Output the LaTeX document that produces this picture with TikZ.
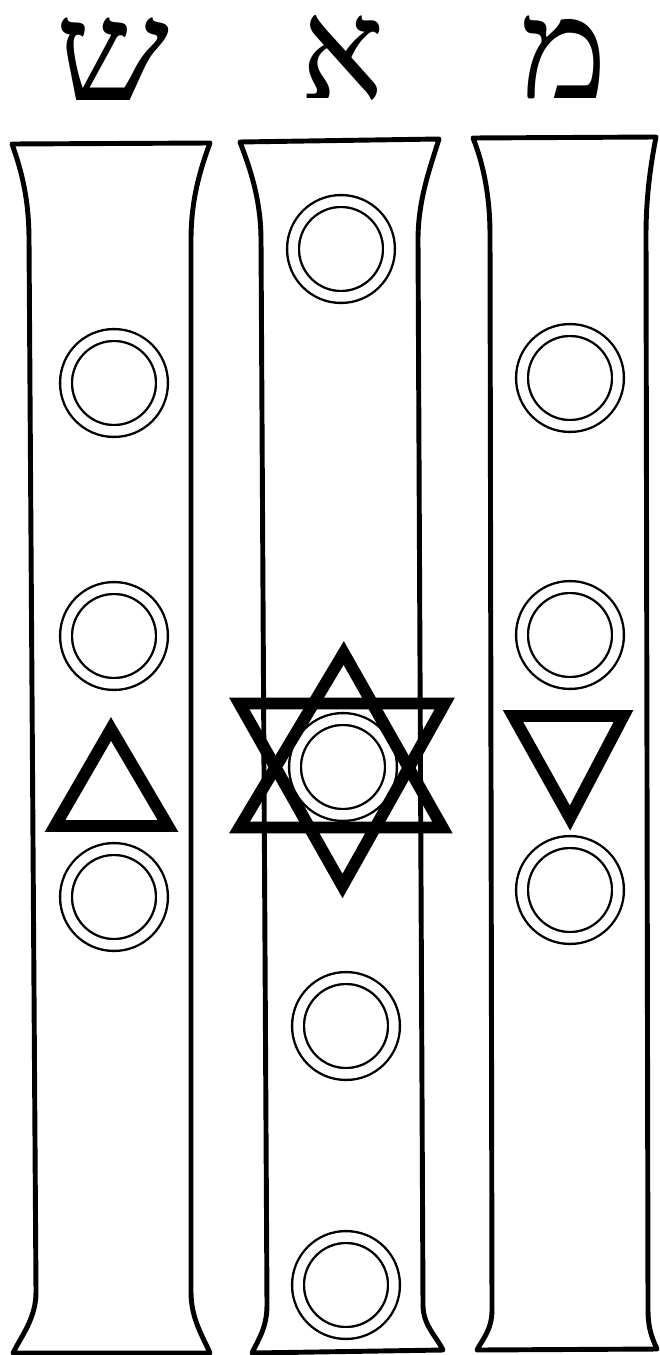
\documentclass[tikz,border=0pt]{standalone}
\usepackage{fontspec}
\usepackage{tikz}
\newfontfamily\hebfont[Script=Hebrew]{Liberation Serif}
\TeXXeTstate=1

\begin{document}
\begin{tikzpicture}[
    x=0.02cm,
    y=-0.02cm,
    pillar/.style={draw=black, line width=2.8pt, line join=round},
    ring/.style={circle, draw=black, line width=1.35pt, double=white, double distance=5.4pt, minimum size=1.92cm, inner sep=0pt},
    tri/.style={draw=black, line width=6.8pt, line join=miter},
    letter/.style={font={\hebfont\fontsize{80}{84}\selectfont}, anchor=base, inner sep=0pt, text height=1.7cm, text depth=0pt}
]
\useasboundingbox (0,0) rectangle (659,1355);
\node[letter, xscale=1.15] (shin) at (113,101) {\beginR ש\endR};
\node[letter] (alef) at (343,98) {\beginR א\endR};
\node[letter, xscale=1.05] (mem) at (564,98) {\beginR מ\endR};
\draw[pillar] (12,144) .. controls (22,172) and (29,200) .. (29,240) -- (36,1292) .. controls (36,1318) and (22,1335) .. (13,1353) -- (210,1353) .. controls (202,1335) and (191,1318) .. (191,1292) -- (191,240) .. controls (191,200) and (200,170) .. (210,143) -- cycle;
\draw[pillar] (240,142) .. controls (250,168) and (261,200) .. (261,240) -- (267,1305) .. controls (267,1328) and (258,1340) .. (252,1353) -- (443,1350) .. controls (436,1336) and (423,1325) .. (423,1305) -- (418,240) .. controls (418,200) and (430,168) .. (439,139) -- cycle;
\draw[pillar] (473,138) .. controls (483,163) and (490,195) .. (490,235) -- (492,1310) .. controls (492,1330) and (482,1340) .. (477,1350) -- (657,1349) .. controls (653,1340) and (648,1330) .. (648,1310) -- (646,235) .. controls (646,195) and (651,163) .. (656,137) -- cycle;
\node[ring] (s1) at (114,383) {};
\node[ring] (s2) at (114,636) {};
\node[ring] (s3) at (114,897) {};
\node[ring] (a1) at (341,249) {};
\node[ring] (a2) at (343,767) {};
\node[ring] (a3) at (346,1026) {};
\node[ring] (a4) at (346,1285) {};
\node[ring] (m1) at (570,378) {};
\node[ring] (m2) at (570,635) {};
\node[ring] (m3) at (570,890) {};
\draw[tri] (111,729) -- (168,826) -- (55,826) -- cycle;
\draw[tri] (343.7,653) -- (442.5,827.5) -- (239.5,827.5) -- cycle;
\draw[tri] (239.3,703.5) -- (444.7,703.5) -- (342.5,886) -- cycle;
\draw[tri] (513,716) -- (623.5,716) -- (570,818) -- cycle;
\end{tikzpicture}
\end{document}
